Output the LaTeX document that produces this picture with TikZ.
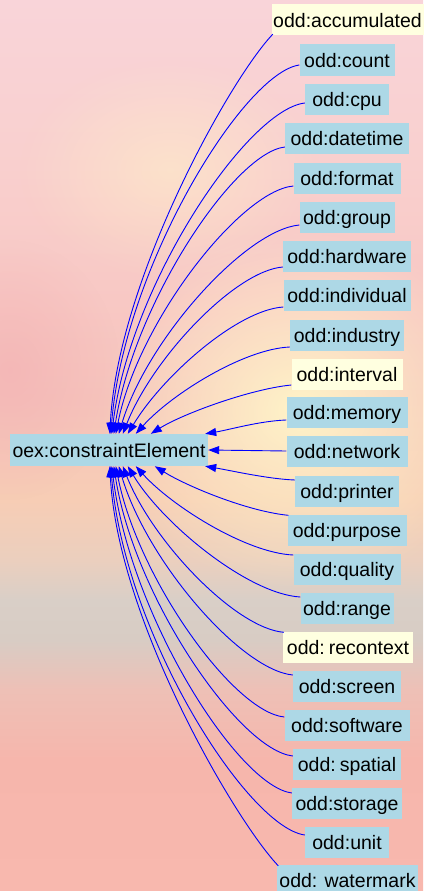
\documentclass[tikz,border=0pt]{standalone}
\usepackage{fontspec}
\setmainfont{Liberation Sans}
\usetikzlibrary{arrows.meta,calc,fadings}
\definecolor{nodeblue}{HTML}{ADD8E6}
\definecolor{nodeyellow}{HTML}{FFFFE0}
\definecolor{edgeblue}{HTML}{0000FF}
\definecolor{bgA}{HTML}{F9D4D9}
\definecolor{bgB}{HTML}{F9D0CF}
\definecolor{bgC}{HTML}{F8C8C4}
\definecolor{bgD}{HTML}{F6C4BC}
\definecolor{bgE}{HTML}{F7CDB5}
\definecolor{bgF}{HTML}{EBCFBE}
\definecolor{bgG}{HTML}{D9CFC7}
\definecolor{bgH}{HTML}{D8CCC4}
\definecolor{bgI}{HTML}{EEC0B6}
\definecolor{bgJ}{HTML}{F6B6AC}
\definecolor{bgK}{HTML}{F8B8AE}
\definecolor{glowcol}{HTML}{FFF4C8}
\definecolor{pinkdark}{HTML}{F3B2B4}
\pgfdeclareverticalshading{bgsky}{100bp}{color(0bp)=(bgK); color(25bp)=(bgK); color(32.35bp)=(bgJ); color(36.28bp)=(bgI); color(39.08bp)=(bgH); color(41.33bp)=(bgG); color(43.57bp)=(bgF); color(46.94bp)=(bgE); color(52.55bp)=(bgD); color(58.16bp)=(bgC); color(66.58bp)=(bgB); color(75bp)=(bgA); color(100bp)=(bgA)}
\tikzfading[name=glowfade, inner color=transparent!0, outer color=transparent!100]
\begin{document}
\begin{tikzpicture}[x=1pt,y=-1pt,
  box/.style={draw=none, inner xsep=1pt, inner ysep=5pt, text height=18pt, text depth=3pt,
    minimum height=31pt, font=\fontsize{19.5}{21}\selectfont, anchor=center},
  bbox/.style={box, fill=nodeblue},
  ybox/.style={box, fill=nodeyellow},
  edge/.style={draw=edgeblue, line width=0.9pt, -{Triangle[length=11pt,width=8pt]}}]
\useasboundingbox (0,0) rectangle (423,891);
% background
\shade[shading=bgsky] (0,0) rectangle (423,891);
\fill[glowcol, path fading=glowfade, fit fading=true] (300,410) ellipse [x radius=200, y radius=180];
\fill[pinkdark, path fading=glowfade, fit fading=true, opacity=0.7] (10,370) ellipse [x radius=110, y radius=130];
\fill[glowcol, path fading=glowfade, fit fading=true, opacity=0.5] (170,170) ellipse [x radius=150, y radius=110];
% nodes
\node[bbox, minimum width=198pt, minimum height=32pt] (c) at (109,450) {oex:constraintElement};
\node[ybox, minimum width=152pt] (acc) at (347.5,20) {odd:accumulated};
\node[bbox, minimum width=95pt] (count) at (347,60) {odd:count};
\node[bbox, minimum width=84pt] (cpu) at (347,99) {odd:cpu};
\node[bbox, minimum width=124pt] (datetime) at (347,138) {odd:datetime};
\node[bbox, minimum width=107pt] (format) at (347,178) {odd:format};
\node[bbox, minimum width=95pt] (group) at (347,217) {odd:group};
\node[bbox, minimum width=128pt] (hardware) at (347,256) {odd:hardware};
\node[bbox, minimum width=127pt] (individual) at (347,295) {odd:individual};
\node[bbox, minimum width=114pt] (industry) at (347,335) {odd:industry};
\node[ybox, minimum width=111pt] (interval) at (347,374) {odd:interval};
\node[bbox, minimum width=121pt] (memory) at (347,412) {odd:memory};
\node[bbox, minimum width=121pt] (network) at (347,451) {odd:network};
\node[bbox, minimum width=104pt] (printer) at (347,491) {odd:printer};
\node[bbox, minimum width=119pt] (purpose) at (347,530) {odd:purpose};
\node[bbox, minimum width=107pt] (quality) at (347,569) {odd:quality};
\node[bbox, minimum width=93pt] (range) at (347,608) {odd:range};
\node[ybox, minimum width=130pt] (recontext) at (348,647) {odd:\hspace{4pt}recontext};
\node[bbox, minimum width=108pt] (screen) at (347,686) {odd:screen};
\node[bbox, minimum width=125pt] (software) at (347,725) {odd:software};
\node[bbox, minimum width=108pt] (spatial) at (347,764) {odd:\hspace{4pt}spatial};
\node[bbox, minimum width=110pt] (storage) at (347,803) {odd:storage};
\node[bbox, minimum width=84pt] (unit) at (347,842) {odd:unit};
\node[bbox, minimum width=141pt] (watermark) at (347.5,880) {odd: watermark};
% connectors (top half)
\draw[edge] ($(acc.south west)+(1.5,-1.5)$) .. controls +(-43,45) and +(8,-154) .. ($(c.north west)+(100,0)$);
\draw[edge] ($(count.west)+(0,5)$) .. controls +(-56,8) and +(13,-166) .. ($(c.north west)+(101,0)$);
\draw[edge] ($(cpu.west)+(0,4)$) .. controls +(-58,7) and +(18,-149) .. ($(c.north west)+(102,0)$);
\draw[edge] ($(datetime.west)+(0,9)$) .. controls +(-51,6) and +(20,-130) .. ($(c.north west)+(104,0)$);
\draw[edge] ($(format.west)+(0,8)$) .. controls +(-53,5) and +(22,-112) .. ($(c.north west)+(106,0)$);
\draw[edge] ($(group.west)+(0,8)$) .. controls +(-54,5) and +(28,-94) .. ($(c.north west)+(109,0)$);
\draw[edge] ($(hardware.west)+(0,11)$) .. controls +(-48,4) and +(30,-76) .. ($(c.north west)+(113,0)$);
\draw[edge] ($(individual.west)+(0,12)$) .. controls +(-46,3) and +(35,-58) .. ($(c.north west)+(118,0)$);
\draw[edge] ($(industry.west)+(0,12)$) .. controls +(-46,2) and +(36,-40) .. ($(c.north west)+(126,0)$);
\draw[edge] ($(interval.west)+(0,11)$) .. controls +(-41,4) and +(32,-20) .. ($(c.north west)+(141,0)$);
\draw[edge] ($(memory.west)+(0,8)$) .. controls +(-27,1) and +(24,-4) .. ($(c.north east)+(-3,0)$);
\draw[edge] (network.west) -- (c.east);
% connectors (bottom half)
\draw[edge] ($(printer.west)+(0,-11)$) .. controls +(-27,-1) and +(24,4) .. ($(c.south east)+(-3,0)$);
\draw[edge] ($(purpose.north west)+(1,1)$) .. controls +(-41,-4) and +(32,20) .. ($(c.south west)+(145,0)$);
\draw[edge] ($(quality.west)+(0,-14)$) .. controls +(-47,-2) and +(36,40) .. ($(c.south west)+(126,0)$);
\draw[edge] ($(range.west)+(0,-11)$) .. controls +(-52,-3) and +(35,58) .. ($(c.south west)+(118,0)$);
\draw[edge] ($(recontext.north west)+(1,1)$) .. controls +(-48,-4) and +(30,76) .. ($(c.south west)+(113,0)$);
\draw[edge] ($(screen.west)+(0,-11)$) .. controls +(-52,-5) and +(28,95) .. ($(c.south west)+(109,0)$);
\draw[edge] ($(software.west)+(0,-8)$) .. controls +(-51,-5) and +(22,112) .. ($(c.south west)+(106,0)$);
\draw[edge] ($(spatial.west)+(0,-8)$) .. controls +(-54,-6) and +(20,130) .. ($(c.south west)+(104,0)$);
\draw[edge] ($(storage.west)+(0,-10)$) .. controls +(-54,-7) and +(18,149) .. ($(c.south west)+(102,0)$);
\draw[edge] ($(unit.west)+(0,-7)$) .. controls +(-58,-8) and +(13,166) .. ($(c.south west)+(101,0)$);
\draw[edge] ($(watermark.north west)+(1.5,1.5)$) .. controls +(-43,-45) and +(8,154) .. ($(c.south west)+(100,0)$);
\end{tikzpicture}
\end{document}
